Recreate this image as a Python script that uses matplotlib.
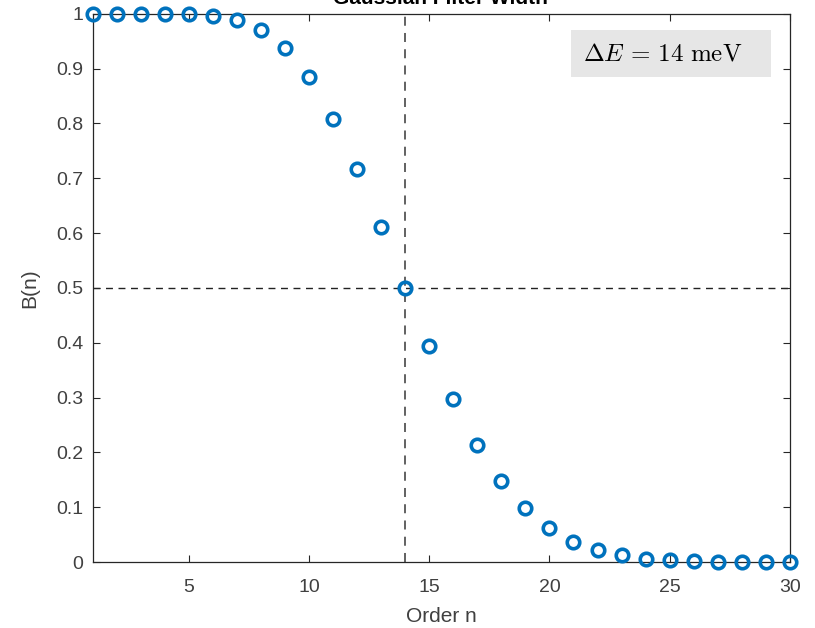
import numpy as np
import matplotlib.pyplot as plt
from matplotlib.patches import Rectangle

plt.rcParams['font.family'] = ['Liberation Sans', 'DejaVu Sans']
plt.rcParams['mathtext.fontset'] = 'cm'

# filter coefficients B(n) for each order n
order_n = np.arange(1, 31)
b_n = [1.0, 1.0, 1.0, 1.0, 0.999, 0.996, 0.989, 0.971, 0.937, 0.884,
       0.809, 0.717, 0.611, 0.5, 0.394, 0.297, 0.214, 0.148, 0.098, 0.062,
       0.037, 0.022, 0.012, 0.006, 0.003, 0.0015, 0.0007, 0.0003, 0.0001, 0.0]
cutoff_n = 14
cutoff_b = 0.5

fig = plt.figure(figsize=(8.15, 6.28), dpi=100)
ax = fig.add_axes([0.114, 0.105, 0.855, 0.873])

axcol = '#262626'
ax.axvline(cutoff_n, color='#555555', ls=(0, (5, 4)), lw=1.3, zorder=1)
ax.axhline(cutoff_b, color='#222222', ls=(0, (5, 4)), lw=1.0, zorder=1)
ax.plot(order_n, b_n, 'o', mfc='none', mec='#0072BD', ms=9, mew=2.6,
        zorder=3, clip_on=False)

ax.set_xlim(1, 30)
ax.set_ylim(0, 1)
ax.set_xticks([5, 10, 15, 20, 25, 30])
ax.set_yticks(np.arange(0, 1.01, 0.1))
ax.set_yticklabels(['0', '0.1', '0.2', '0.3', '0.4', '0.5', '0.6', '0.7',
                    '0.8', '0.9', '1'])
ax.tick_params(direction='in', top=True, right=True, length=5, width=0.8,
               labelsize=14, colors=axcol, labelcolor='#404040')
ax.tick_params(axis='x', pad=12)
ax.tick_params(axis='y', pad=7)
for s in ax.spines.values():
    s.set_color(axcol)
    s.set_linewidth(0.9)

ax.set_xlabel('Order n', fontsize=15, color='#404040', labelpad=8)
ax.set_ylabel('B(n)', fontsize=15, color='#404040', labelpad=12)

fig.text(0.541, 1 - 4 / 628, 'Gaussian Filter Width', ha='center',
         va='baseline', fontsize=15, fontweight='bold', color='black')

# annotation box in the upper right corner
ax.add_patch(Rectangle((0.686, 0.885), 0.287, 0.086, transform=ax.transAxes,
                       fc='#e6e6e6', ec='none', zorder=2))
ax.text(0.703, 0.927, r'$\Delta E\,=\,14\ \mathrm{meV}$', transform=ax.transAxes,
        ha='left', va='center', fontsize=18, color='black', zorder=4)

fig.savefig('out.png', dpi=100)
